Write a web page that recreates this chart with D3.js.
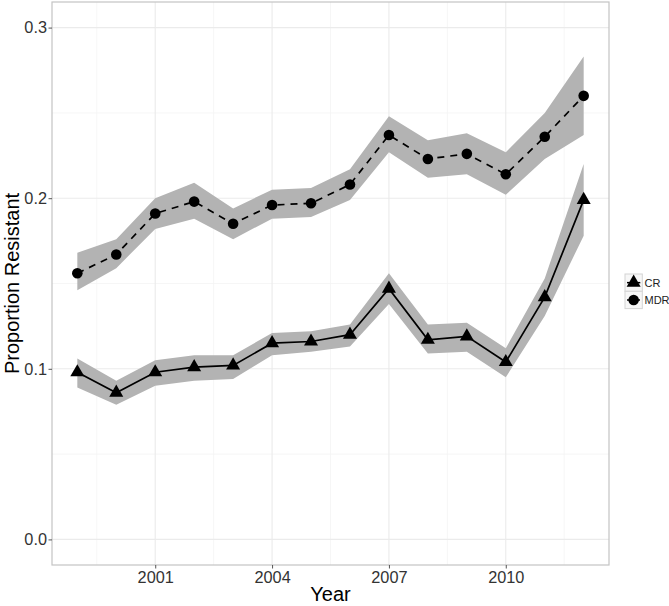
<!DOCTYPE html>
<html>
<head>
<meta charset="utf-8">
<script src="https://cdn.jsdelivr.net/npm/d3@7"></script>
<style>
	body { margin: 0; background: #fff; }
	svg { display: block; font-family: "Liberation Sans", Arial, sans-serif; }
</style>
</head>
<body>
<div id="vis"></div>
<script>
// DATA
let years = [1999, 2000, 2001, 2002, 2003, 2004, 2005, 2006, 2007, 2008, 2009, 2010, 2011, 2012];

let mdr = [0.156, 0.167, 0.191, 0.198, 0.185, 0.196, 0.197, 0.208, 0.237, 0.223, 0.226, 0.214, 0.236, 0.260],
	mdrLow = [0.146, 0.159, 0.182, 0.188, 0.176, 0.188, 0.189, 0.199, 0.227, 0.212, 0.214, 0.202, 0.223, 0.237],
	mdrHigh = [0.168, 0.176, 0.200, 0.209, 0.194, 0.205, 0.206, 0.217, 0.248, 0.234, 0.238, 0.227, 0.250, 0.283];

let cr = [0.098, 0.086, 0.098, 0.101, 0.102, 0.115, 0.116, 0.120, 0.147, 0.117, 0.119, 0.104, 0.142, 0.199],
	crLow = [0.089, 0.079, 0.090, 0.093, 0.094, 0.108, 0.110, 0.113, 0.138, 0.109, 0.110, 0.095, 0.131, 0.178],
	crHigh = [0.106, 0.093, 0.105, 0.108, 0.108, 0.121, 0.122, 0.126, 0.156, 0.126, 0.127, 0.112, 0.153, 0.220];

let xTicks = [2001, 2004, 2007, 2010],
	xMinor = [1999.5, 2002.5, 2005.5, 2008.5, 2011.5],
	yTicks = [0.0, 0.1, 0.2, 0.3],
	yMinor = [0.05, 0.15, 0.25];

let seriesNames = ['CR', 'MDR'];

// PARAMETERS
let width = 669,
	height = 606,
	panel = { left: 52, top: 2, right: 609, bottom: 565 };

// SCALES
let x = d3.scaleLinear().domain([1998.35, 2012.65]).range([panel.left, panel.right]),
	y = d3.scaleLinear().domain([-0.015, 0.315]).range([panel.bottom, panel.top]);

let svg = d3.select('#vis')
	.append('svg')
	.attr('width', width)
	.attr('height', height);

// GRID
let grid = svg.append('g');
grid.selectAll('.ymin').data(yMinor).enter().append('line')
	.attr('x1', panel.left).attr('x2', panel.right)
	.attr('y1', d => y(d)).attr('y2', d => y(d))
	.attr('stroke', '#f4f4f4').attr('stroke-width', 0.8);
grid.selectAll('.xmin').data(xMinor).enter().append('line')
	.attr('y1', panel.top).attr('y2', panel.bottom)
	.attr('x1', d => x(d)).attr('x2', d => x(d))
	.attr('stroke', '#f4f4f4').attr('stroke-width', 0.8);
grid.selectAll('.ymaj').data(yTicks).enter().append('line')
	.attr('x1', panel.left).attr('x2', panel.right)
	.attr('y1', d => y(d)).attr('y2', d => y(d))
	.attr('stroke', '#ebebeb').attr('stroke-width', 1.1);
grid.selectAll('.xmaj').data(xTicks).enter().append('line')
	.attr('y1', panel.top).attr('y2', panel.bottom)
	.attr('x1', d => x(d)).attr('x2', d => x(d))
	.attr('stroke', '#ebebeb').attr('stroke-width', 1.1);

// RIBBONS
let area = (lo, hi) => d3.area()
	.x((d, i) => x(years[i]))
	.y0((d, i) => y(lo[i]))
	.y1((d, i) => y(hi[i]));

svg.append('path').datum(years).attr('d', area(mdrLow, mdrHigh)).attr('fill', '#b3b3b3');
svg.append('path').datum(years).attr('d', area(crLow, crHigh)).attr('fill', '#b3b3b3');

// LINES
let line = vals => d3.line().x((d, i) => x(years[i])).y((d, i) => y(vals[i]));

svg.append('path').datum(years).attr('d', line(mdr))
	.attr('fill', 'none').attr('stroke', '#000').attr('stroke-width', 1.7)
	.attr('stroke-dasharray', '7,6');
svg.append('path').datum(years).attr('d', line(cr))
	.attr('fill', 'none').attr('stroke', '#000').attr('stroke-width', 1.7);

// POINTS
let tri = d3.symbol().type(d3.symbolTriangle).size(85);
svg.selectAll('.cr').data(cr).enter().append('path')
	.attr('d', tri)
	.attr('transform', (d, i) => `translate(${x(years[i])},${y(d)})`)
	.attr('fill', '#000');
svg.selectAll('.mdr').data(mdr).enter().append('circle')
	.attr('cx', (d, i) => x(years[i]))
	.attr('cy', d => y(d))
	.attr('r', 5.3)
	.attr('fill', '#000');

// PANEL BORDER
svg.append('rect')
	.attr('x', panel.left).attr('y', panel.top)
	.attr('width', panel.right - panel.left).attr('height', panel.bottom - panel.top)
	.attr('fill', 'none').attr('stroke', '#c4c4c4').attr('stroke-width', 1.2);

// AXES
let xAxis = d3.axisBottom(x).tickValues(xTicks).tickFormat(d3.format('d')).tickSize(3.5).tickPadding(2.5),
	yAxis = d3.axisLeft(y).tickValues(yTicks).tickFormat(d3.format('.1f')).tickSize(3.5).tickPadding(1.5);

let gx = svg.append('g').attr('transform', `translate(0,${panel.bottom})`).call(xAxis);
let gy = svg.append('g').attr('transform', `translate(${panel.left},0)`).call(yAxis);
[gx, gy].forEach(g => {
	g.select('.domain').remove();
	g.selectAll('.tick line').attr('stroke', '#555').attr('stroke-width', 1);
	g.selectAll('.tick text').attr('fill', '#333').style('font-size', '16.3px');
});

// AXIS TITLES
svg.append('text')
	.attr('x', (panel.left + panel.right) / 2)
	.attr('y', 601)
	.attr('text-anchor', 'middle')
	.style('font-size', '20px')
	.attr('fill', '#000')
	.text('Year');
svg.append('text')
	.attr('transform', `translate(18.5,${(panel.top + panel.bottom) / 2}) rotate(-90)`)
	.attr('text-anchor', 'middle')
	.style('font-size', '20px')
	.attr('fill', '#000')
	.text('Proportion Resistant');

// LEGEND
let legend = svg.append('g').attr('transform', 'translate(625,274)');
let keys = legend.selectAll('g').data(seriesNames).enter().append('g')
	.attr('transform', (d, i) => `translate(0,${i * 17.3})`);
keys.append('rect')
	.attr('width', 17.3).attr('height', 17.3)
	.attr('fill', '#f7f7f7').attr('stroke', '#d4d4d4').attr('stroke-width', 1);
keys.append('line')
	.attr('x1', 2).attr('x2', 15.3).attr('y1', 8.65).attr('y2', 8.65)
	.attr('stroke', '#000').attr('stroke-width', 1.5)
	.attr('stroke-dasharray', d => d === 'MDR' ? '3,2' : null);
keys.append('path')
	.attr('d', d => d === 'CR' ? tri() : d3.symbol().type(d3.symbolCircle).size(88)())
	.attr('transform', 'translate(8.65,8.65)')
	.attr('fill', '#000');
keys.append('text')
	.attr('x', 19.5).attr('y', 8.65).attr('dy', '0.36em')
	.style('font-size', '11px')
	.attr('fill', '#222')
	.text(d => d);
</script>
</body>
</html>
